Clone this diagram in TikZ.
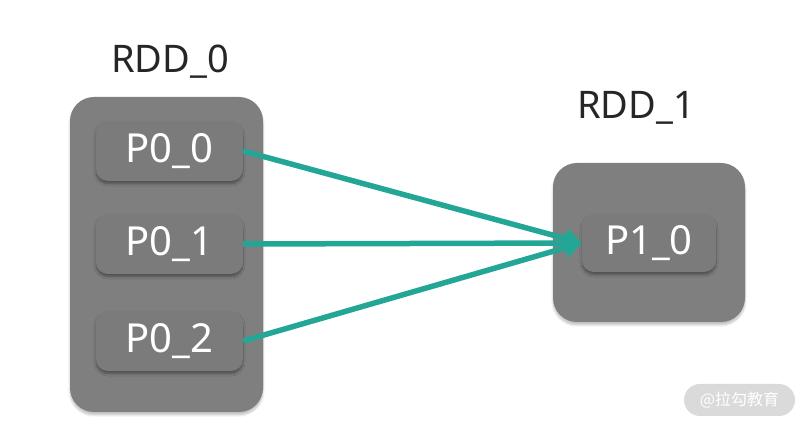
\documentclass[tikz,border=0pt]{standalone}
\usepackage{fontspec}
\setmainfont{Noto Sans}
\newfontfamily\cjkfont{Noto Sans CJK SC}
\usepackage{xcolor}
\usepackage{tikz}
\usetikzlibrary{arrows.meta,positioning,shadows.blur}
\definecolor{boxgray}{HTML}{7F7F7F}
\definecolor{partgray}{HTML}{7B7B7B}
\definecolor{flowteal}{HTML}{23A696}
\definecolor{markgray}{HTML}{DADADA}
\tikzset{
  rddbox/.style={rectangle, rounded corners=24pt, fill=boxgray,
    blur shadow={shadow xshift=0pt, shadow yshift=-3pt, shadow blur steps=6, shadow opacity=25}},
  part/.style={rectangle, rounded corners=12pt, fill=partgray, text=white,
    minimum width=147pt, minimum height=60pt, inner sep=0pt,
    font=\fontsize{40}{44}\selectfont,
    blur shadow={shadow xshift=0pt, shadow yshift=-3pt, shadow blur steps=6, shadow opacity=35}},
  rddlabel/.style={text=black!85, font=\fontsize{38}{42}\selectfont},
  flow/.style={-{Triangle[length=17pt, width=20pt]}, line width=5.5pt, flowteal},
}

\begin{document}
\begin{tikzpicture}[x=1pt, y=1pt]
  \useasboundingbox (0,0) rectangle (806,427);
  % RDD_0 with its three partitions
  \node[rddbox, minimum width=193pt, minimum height=315pt] (rdd0) at (166.5,172.5) {};
  \node[rddlabel] (rdd0lab) at (170,365) {RDD\_0};
  \node[part] (p00) at (169.5,276) {P0\_0};
  \node[part] (p01) at (169.5,183) {P0\_1};
  \node[part] (p02) at (169.5,86) {P0\_2};
  % RDD_1 with one partition
  \node[rddbox, minimum width=192pt, minimum height=159pt] (rdd1) at (649,184.5) {};
  \node[rddlabel] (rdd1lab) at (636,319) {RDD\_1};
  \node[part, minimum width=134pt, minimum height=58pt] (p10) at (649,184) {P1\_0};
  % dependencies
  \draw[flow] (p00.east) -- (p10.west);
  \draw[flow] (p01.east) -- (p10.west);
  \draw[flow] (p02.east) -- (p10.west);
  % watermark
  \node[rectangle, rounded corners=16pt, fill=markgray, text=white,
    minimum width=111pt, minimum height=32pt, font=\cjkfont\fontsize{16}{18}\selectfont]
    (mark) at (739.5,27) {@拉勾教育};
\end{tikzpicture}
\end{document}
